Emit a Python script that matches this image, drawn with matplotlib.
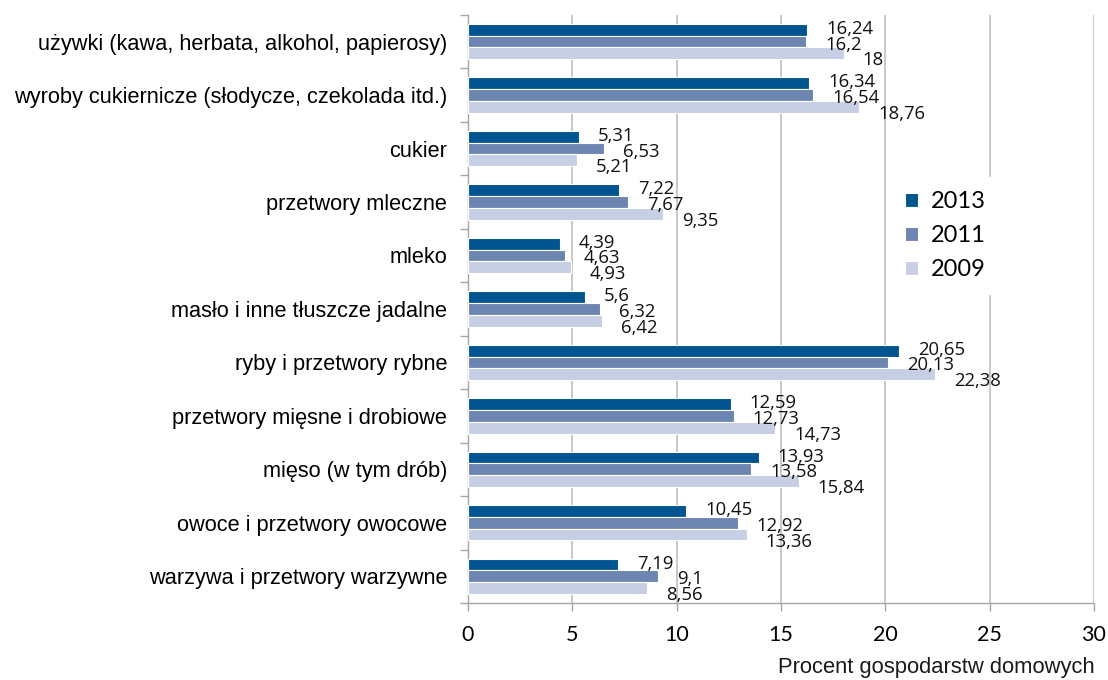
import matplotlib
matplotlib.use("Agg")
import matplotlib.pyplot as plt
import numpy as np

categories = [
    "używki (kawa, herbata, alkohol, papierosy)",
    "wyroby cukiernicze (słodycze, czekolada itd.)",
    "cukier",
    "przetwory mleczne",
    "mleko",
    "masło i inne tłuszcze jadalne",
    "ryby i przetwory rybne",
    "przetwory mięsne i drobiowe",
    "mięso (w tym drób)",
    "owoce i przetwory owocowe",
    "warzywa i przetwory warzywne",
]
years = ["2013", "2011", "2009"]
values_2013 = [16.24, 16.34, 5.31, 7.22, 4.39, 5.6, 20.65, 12.59, 13.93, 10.45, 7.19]
values_2011 = [16.2, 16.54, 6.53, 7.67, 4.63, 6.32, 20.13, 12.73, 13.58, 12.92, 9.1]
values_2009 = [18, 18.76, 5.21, 9.35, 4.93, 6.42, 22.38, 14.73, 15.84, 13.36, 8.56]
x_ticks = [0, 5, 10, 15, 20, 25, 30]
x_label = "Procent gospodarstw domowych"

series = [values_2013, values_2011, values_2009]
colors = ["#005591", "#6C86B1", "#C6CFE3"]

fig = plt.figure(figsize=(11.08, 6.8), dpi=100)
ax = fig.add_axes([0.4224, 0.1132, 0.565, 0.865])

label_font = "Liberation Sans"
num_font = "Lato"
value_font = "Open Sans"

n = len(categories)
y = np.arange(n)
bar_h = 0.22
offsets = [-bar_h, 0.0, bar_h]
label_dy = [1, -3, -7]

for vals, col, off, year, dy in zip(series, colors, offsets, years, label_dy):
    ax.barh(y + off, vals, height=bar_h, color=col, edgecolor="white",
            linewidth=0.8, label=year, zorder=3)
    for yi, v in zip(y, vals):
        txt = f"{v:g}".replace(".", ",")
        ax.annotate(txt, xy=(v, yi + off), xytext=(19, dy),
                    textcoords="offset pixels", ha="left", va="center",
                    fontsize=13.3, family=value_font, color="#111111", zorder=4)

ax.set_xlim(0, 30)
ax.set_ylim(n - 0.5, -0.5)
ax.set_xticks(x_ticks)
ax.set_xticklabels([str(t) for t in x_ticks], family=num_font, fontsize=15.5)
ax.set_yticks(y)
ax.set_yticklabels(categories, family=label_font, fontsize=15.7)
ax.set_yticks(np.arange(-0.5, n, 1.0), minor=True)

ax.tick_params(axis="y", which="major", length=0, pad=15)
ax.tick_params(axis="y", which="minor", length=6, color="#A6A6A6", width=1.0)
ax.tick_params(axis="x", which="major", length=6, color="#A6A6A6", width=1.0, pad=10)

ax.grid(axis="x", color="#C4C4C4", linewidth=1.3, zorder=0)
ax.set_axisbelow(True)
for side in ("top", "right"):
    ax.spines[side].set_visible(False)
for side in ("left", "bottom"):
    ax.spines[side].set_color("#A6A6A6")
    ax.spines[side].set_linewidth(1.0)

fig.text(0.988, 0.003, x_label, ha="right", va="bottom",
         family=label_font, fontsize=15.8, color="#1a1a1a")

leg = ax.legend(loc="upper left", bbox_to_anchor=(0.793, 0.757),
                bbox_transform=fig.transFigure, frameon=True,
                handlelength=0.55, handleheight=0.55, handletextpad=0.55,
                labelspacing=0.55, borderpad=0.6,
                prop={"family": num_font, "size": 17})
leg.get_frame().set_edgecolor("white")
leg.get_frame().set_facecolor("white")
leg.get_frame().set_alpha(1.0)
leg.get_frame().set_boxstyle("square", pad=0)

fig.savefig("out.png", dpi=100)
